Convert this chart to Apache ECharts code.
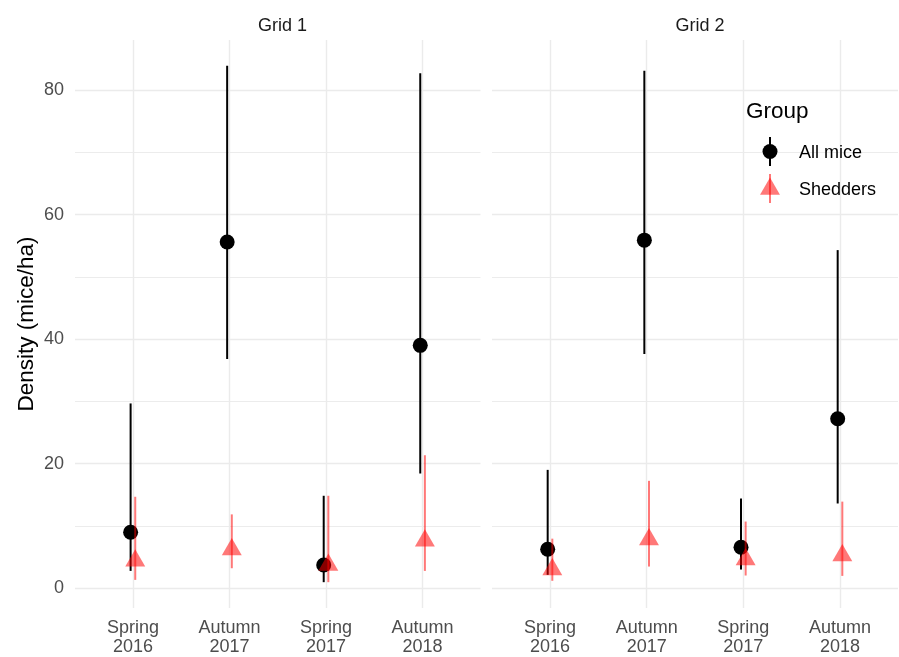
<!DOCTYPE html>
<html>
<head>
<meta charset="utf-8">
<script src="https://cdn.jsdelivr.net/npm/echarts@6/dist/echarts.min.js"></script>
<style>
html,body{margin:0;padding:0;background:#fff;}
#chart{width:899px;height:657px;}
</style>
</head>
<body>
<div id="chart"></div>
<script>
// ---- data ----
const categories = ['Spring 2016', 'Autumn 2017', 'Spring 2017', 'Autumn 2018'];
const facets = ['Grid 1', 'Grid 2'];
const groups = ['All mice', 'Shedders'];

// Grid 1
const g1AllEst = [8.97, 55.6, 3.73, 39.0];
const g1AllLo  = [2.77, 36.8, 0.96, 18.4];
const g1AllHi  = [29.67, 83.9, 14.84, 82.7];
const g1ShedEst = [4.4, 6.2, 3.7, 7.6];
const g1ShedLo  = [1.33, 3.2, 0.96, 2.77];
const g1ShedHi  = [14.68, 11.85, 14.84, 21.35];
// Grid 2
const g2AllEst = [6.24, 55.9, 6.56, 27.2];
const g2AllLo  = [2.14, 37.6, 2.99, 13.6];
const g2AllHi  = [19.0, 83.1, 14.4, 54.3];
const g2ShedEst = [3.0, 7.8, 4.6, 5.25];
const g2ShedLo  = [1.18, 3.47, 2.03, 1.97];
const g2ShedHi  = [7.95, 17.24, 10.7, 13.9];

const yTickStep = 20;

// ---- build ----
function rows(est, lo, hi) {
  return categories.map((c, i) => [i, est[i], lo[i], hi[i]]);
}
const allVals = [].concat(g1AllLo, g1AllHi, g1ShedLo, g1ShedHi, g2AllLo, g2AllHi, g2ShedLo, g2ShedHi);
const dMin = Math.min.apply(null, allVals), dMax = Math.max.apply(null, allVals);
const yMin = dMin - 0.05 * (dMax - dMin);
const yMax = dMax + 0.05 * (dMax - dMin);

const DODGE = 0.024;
const RED = 'rgba(255,0,0,0.53)';
const FONT = 'Liberation Sans, Arial, sans-serif';

function renderAll(params, api) {
  const x = api.value(0) - DODGE;
  const pe = api.coord([x, api.value(1)]);
  const pl = api.coord([x, api.value(2)]);
  const ph = api.coord([x, api.value(3)]);
  return {type: 'group', children: [
    {type: 'line', shape: {x1: pl[0], y1: pl[1], x2: ph[0], y2: ph[1]}, style: {stroke: '#000', lineWidth: 2}},
    {type: 'circle', shape: {cx: pe[0], cy: pe[1], r: 7.5}, style: {fill: '#000'}}
  ]};
}
function triPoints(cx, cy, r) {
  const h = r * Math.sqrt(3) / 2;
  return [[cx, cy - r], [cx + h, cy + r / 2], [cx - h, cy + r / 2]];
}
function renderShed(params, api) {
  const x = api.value(0) + DODGE;
  const pe = api.coord([x, api.value(1)]);
  const pl = api.coord([x, api.value(2)]);
  const ph = api.coord([x, api.value(3)]);
  return {type: 'group', children: [
    {type: 'line', shape: {x1: pl[0], y1: pl[1], x2: ph[0], y2: ph[1]}, style: {stroke: RED, lineWidth: 2}},
    {type: 'polygon', shape: {points: triPoints(pe[0], pe[1], 11.5)}, style: {fill: RED}}
  ]};
}

function xAxisFor(gi) {
  return {
    type: 'value', gridIndex: gi, min: -0.6, max: categories.length - 0.4, splitNumber: 4,
    axisLine: {show: false}, axisTick: {show: false},
    axisLabel: {
      color: '#4D4D4D', fontSize: 18, fontFamily: FONT, lineHeight: 19, margin: 11,
      showMinLabel: false, showMaxLabel: false,
      formatter: v => (Number.isInteger(v) && v >= 0 && v < categories.length) ? categories[v].replace(' ', '\n') : ''
    },
    splitLine: {show: true, showMinLine: false, showMaxLine: false, lineStyle: {color: '#EBEBEB', width: 1.4}}
  };
}
function yAxisFor(gi, labels) {
  return {
    type: 'value', gridIndex: gi, min: yMin, max: yMax, splitNumber: 5,
    axisLine: {show: false}, axisTick: {show: false},
    name: labels ? 'Density (mice/ha)' : '', nameLocation: 'middle', nameGap: 37, nameRotate: 90,
    nameTextStyle: {color: '#000', fontSize: 22.5, fontFamily: FONT},
    axisLabel: {
      show: labels, color: '#4D4D4D', fontSize: 18, fontFamily: FONT, margin: 11,
      showMinLabel: false, showMaxLabel: false,
      formatter: v => (Math.abs(v % yTickStep) < 1e-9 && v >= 0) ? String(v) : ''
    },
    splitLine: {show: true, showMinLine: false, showMaxLine: false, lineStyle: {color: '#EBEBEB', width: 1.4}},
    minorTick: {show: false, splitNumber: 2},
    minorSplitLine: {show: true, lineStyle: {color: '#ECECEC', width: 1}}
  };
}

const chart = echarts.init(document.getElementById('chart'), null, {renderer: 'canvas'});
const option = {
  backgroundColor: '#fff',
  animation: false,
  title: [
    {text: facets[0], left: 277.5, top: 12, textAlign: 'center', textStyle: {fontSize: 18, fontWeight: 'normal', color: '#1A1A1A', fontFamily: FONT}},
    {text: facets[1], left: 695, top: 12, textAlign: 'center', textStyle: {fontSize: 18, fontWeight: 'normal', color: '#1A1A1A', fontFamily: FONT}}
  ],
  grid: [
    {left: 75, top: 40, width: 405.5, height: 570},
    {left: 492, top: 40, width: 406, height: 570}
  ],
  xAxis: [xAxisFor(0), xAxisFor(1)],
  yAxis: [yAxisFor(0, true), yAxisFor(1, false)],
  series: [
    {type: 'custom', name: groups[0], xAxisIndex: 0, yAxisIndex: 0, renderItem: renderAll, encode: {x: 0, y: [1, 2, 3]}, data: rows(g1AllEst, g1AllLo, g1AllHi), z: 2},
    {type: 'custom', name: groups[1], xAxisIndex: 0, yAxisIndex: 0, renderItem: renderShed, encode: {x: 0, y: [1, 2, 3]}, data: rows(g1ShedEst, g1ShedLo, g1ShedHi), z: 3},
    {type: 'custom', name: groups[0], xAxisIndex: 1, yAxisIndex: 1, renderItem: renderAll, encode: {x: 0, y: [1, 2, 3]}, data: rows(g2AllEst, g2AllLo, g2AllHi), z: 2},
    {type: 'custom', name: groups[1], xAxisIndex: 1, yAxisIndex: 1, renderItem: renderShed, encode: {x: 0, y: [1, 2, 3]}, data: rows(g2ShedEst, g2ShedLo, g2ShedHi), z: 3}
  ],
  graphic: [
    {type: 'text', left: 746, top: 100, style: {text: 'Group', fontSize: 22.5, fontFamily: FONT, fill: '#000'}, z: 10},
    {type: 'line', shape: {x1: 770, y1: 137, x2: 770, y2: 166}, style: {stroke: '#000', lineWidth: 2}, z: 10},
    {type: 'circle', shape: {cx: 770, cy: 151.5, r: 7.5}, style: {fill: '#000'}, z: 10},
    {type: 'text', x: 799, y: 153, style: {text: groups[0], fontSize: 18, fontFamily: FONT, fill: '#000', verticalAlign: 'middle'}, z: 10},
    {type: 'line', shape: {x1: 770, y1: 174, x2: 770, y2: 203}, style: {stroke: RED, lineWidth: 2}, z: 10},
    {type: 'polygon', shape: {points: triPoints(770, 189, 11.5)}, style: {fill: RED}, z: 10},
    {type: 'text', x: 799, y: 190, style: {text: groups[1], fontSize: 18, fontFamily: FONT, fill: '#000', verticalAlign: 'middle'}, z: 10}
  ]
};
chart.setOption(option);
</script>
</body>
</html>
